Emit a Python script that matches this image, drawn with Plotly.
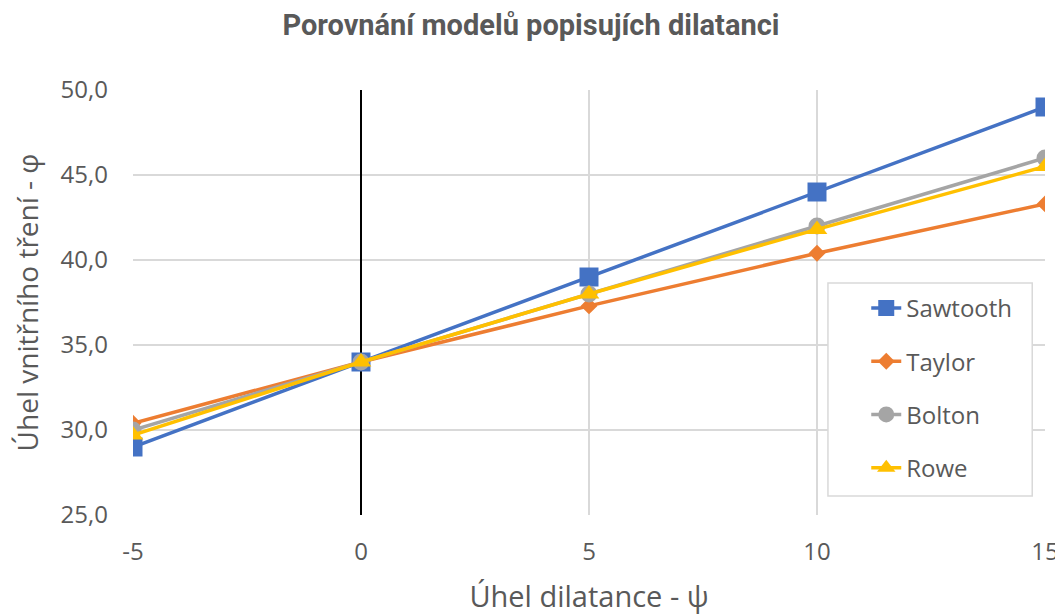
import plotly.graph_objects as go

psi = [-5, 0, 5, 10, 15]
sawtooth = [29.0, 34.0, 39.0, 44.0, 49.0]
taylor = [30.4, 34.0, 37.3, 40.4, 43.3]
bolton = [30.0, 34.0, 38.0, 42.0, 46.0]
rowe = [29.7, 34.0, 38.0, 41.8, 45.5]

x_ticks = [-5, 0, 5, 10, 15]
x_tick_labels = ["-5", "0", "5", "10", "15"]

series = [
    ("Sawtooth", sawtooth, "#4472C4", "square", 19),
    ("Taylor", taylor, "#ED7D31", "diamond", 13),
    ("Bolton", bolton, "#A5A5A5", "circle", 17),
    ("Rowe", rowe, "#FFC000", "triangle-up", 18),
]

fig = go.Figure()
for name, vals, col, sym, sz in series:
    fig.add_trace(go.Scatter(
        x=psi, y=vals, name=name, mode="lines+markers", legendgroup=name,
        line=dict(color=col, width=3.5),
        marker=dict(color=col, symbol=sym, size=sz),
    ))

# legend frame (drawn as a shape so it can be wider than plotly's legend box)
fig.add_shape(type="rect", xref="paper", yref="paper",
              x0=0.762, x1=0.986, y0=0.045, y1=0.546,
              fillcolor="white", line=dict(color="#D9D9D9", width=1.5), layer="above")

fig.update_layout(
    width=1055, height=607,
    margin=dict(l=125, r=18, t=82, b=100),
    paper_bgcolor="white", plot_bgcolor="white",
    separators=", ",
    font=dict(family="Open Sans", color="#595959"),
    title=dict(text="<b>Porovnání modelů popisujích dilatanci</b>",
               x=0.4957, xanchor="center", y=0.973, yanchor="middle",
               font=dict(family="Roboto", size=29, color="#595959")),
    legend=dict(x=0.804, y=0.539, xanchor="left", yanchor="top",
                bgcolor="rgba(0,0,0,0)", borderwidth=0,
                font=dict(size=24, color="#595959"),
                tracegroupgap=19),
    showlegend=True,
)
fig.update_xaxes(
    range=[-5, 15], tickvals=x_ticks, ticktext=x_tick_labels,
    showgrid=True, gridcolor="#D9D9D9", gridwidth=1.5,
    zeroline=True, zerolinecolor="black", zerolinewidth=2,
    tickfont=dict(size=24, color="#595959"), ticks="", ticklabelstandoff=20,
    ticklabeloverflow="allow", automargin=False,
    title=dict(text="Úhel dilatance - ψ", font=dict(size=29, color="#595959"), standoff=29),
)
fig.update_yaxes(
    range=[25, 50], dtick=5, tickformat=".1f", showgrid=True, gridcolor="#D9D9D9", gridwidth=1.5,
    zeroline=False, tickfont=dict(size=24, color="#595959"), ticks="", ticklabelstandoff=24,
    ticklabeloverflow="allow", automargin=False,
    title=dict(text="Úhel vnitřního tření - φ", font=dict(size=28, color="#595959"), standoff=20),
)

fig.write_html("out.html")
